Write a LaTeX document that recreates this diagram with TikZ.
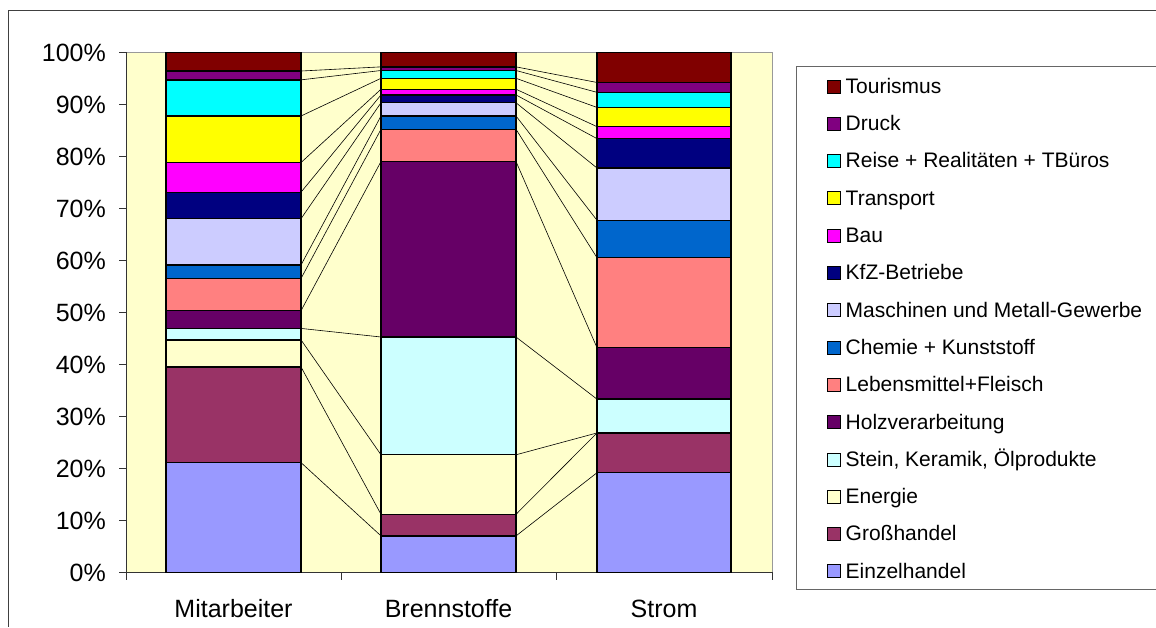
\documentclass[tikz,border=0pt]{standalone}
\usepackage{fontspec}
\setmainfont{Liberation Sans}

% series colours, from the bottom of each bar upwards
\definecolor{ser1}{HTML}{9999FF}  % Einzelhandel
\definecolor{ser2}{HTML}{993366}  % Grosshandel
\definecolor{ser3}{HTML}{FFFFCC}  % Energie
\definecolor{ser4}{HTML}{CCFFFF}  % Stein
\definecolor{ser5}{HTML}{660066}  % Holz
\definecolor{ser6}{HTML}{FF8080}  % Lebensmittel
\definecolor{ser7}{HTML}{0066CC}  % Chemie
\definecolor{ser8}{HTML}{CCCCFF}  % Maschinen
\definecolor{ser9}{HTML}{000080}  % KfZ
\definecolor{ser10}{HTML}{FF00FF} % Bau
\definecolor{ser11}{HTML}{FFFF00} % Transport
\definecolor{ser12}{HTML}{00FFFF} % Reise
\definecolor{ser13}{HTML}{800080} % Druck
\definecolor{ser14}{HTML}{800000} % Tourismus
\definecolor{plotbg}{HTML}{FFFFCC}

\begin{document}
\begin{tikzpicture}[x=1pt,y=-1pt]

    % `segment' is one piece of a stacked bar.
    % `serline' joins the same series in two neighbouring bars.
    % `axislabel' and `legendlabel' are the texts.
    \tikzstyle{segment} = [draw=black,line width=1.3pt]
    \tikzstyle{serline} = [draw=black,line width=0.6pt]
    \tikzstyle{axislabel} = [font=\fontsize{25}{29}\selectfont,inner sep=0pt]
    \tikzstyle{legendlabel} = [font=\fontsize{21}{25}\selectfont,anchor=base west,inner sep=0pt]
    \tikzstyle{swatch} = [draw=black,line width=1pt,minimum size=13pt,inner sep=0pt]
    %
    \useasboundingbox (0,0) rectangle (1156,627);

    % Frames.
    \draw[black!75,line width=1.5pt] (1156,10.5) -| (8.5,627);
    \draw[black!60,line width=1.2pt] (1156,66.5) -| (796.5,589.5) -- (1156,589.5);

    % Plot area.
    \fill[plotbg] (126,52) rectangle (772,572.3);
    \draw[black!40,line width=1pt] (126,52) -- (772,52) -- (772,572.3);

    \begin{scope}[shift={(0,572.3)},y=5.2pt]
    % Axes and ticks.
    \draw[black!80,line width=1pt] (126,100) -- (126,-1.5) (126,0) -- (772,0);
    \foreach \p in {0,10,...,100} {
        \draw[black!80,line width=1pt] (119,\p) -- (126,\p);
        \node[axislabel,anchor=base east,yshift=-8.7pt] (tick\p) at (106,\p) {\p\%};
    }
    \foreach \x in {341,556.5,772}
        \draw[black!80,line width=1pt] (\x,0) -- (\x,-1.5);

    % Bars.
    \foreach \b/\xl/\xr/\vals in {
        1/166/301/{21.1,39.5,44.7,46.9,50.3,56.5,59.1,68.0,73.1,78.8,87.75,94.7,96.4,100},
        2/381/516/{7.0,11.15,22.6,45.25,79.0,85.2,87.75,90.3,91.8,92.9,95.0,96.5,97.2,100},
        3/597/731/{19.15,26.8,26.8,33.3,43.2,60.5,67.7,77.75,83.4,85.7,89.4,92.3,94.2,100}} {
        \foreach \v [count=\s, remember=\v as \prev (initially 0)] in \vals {
            \draw[segment,fill=ser\s] (\xl,\prev) rectangle (\xr,\v);
            \coordinate (b\b-\s-l) at (\xl,\v);
            \coordinate (b\b-\s-r) at (\xr,\v);
        }
    }

    % Series lines.
    \foreach \s in {1,...,13}
        \draw[serline] (b1-\s-r) -- (b2-\s-l) (b2-\s-r) -- (b3-\s-l);
    \end{scope}

    % Category labels.
    \node[axislabel,anchor=base] (mitarbeiter) at (233.5,617.7) {Mitarbeiter};
    \node[axislabel,anchor=base] (brennstoffe) at (448.5,617.7) {Brennstoffe};
    \node[axislabel,anchor=base] (strom) at (664,617.7) {Strom};

    % Legend.
    \foreach \name [count=\k] in {Tourismus, Druck, Reise + Realitäten + TBüros,
        Transport, Bau, KfZ-Betriebe, Maschinen und Metall-Gewerbe,
        Chemie + Kunststoff, Lebensmittel+Fleisch, Holzverarbeitung,
        {Stein, Keramik, Ölprodukte}, Energie, Großhandel, Einzelhandel} {
        \pgfmathtruncatemacro{\s}{15-\k}
        \pgfmathsetmacro{\ly}{86.5+37.3*(\k-1)}
        \node[swatch,fill=ser\s] (key\s) at (833.5,\ly) {};
        \node[legendlabel] (entry\s) at (845.5,\ly+6.8) {\name};
    }

\end{tikzpicture}
\end{document}
